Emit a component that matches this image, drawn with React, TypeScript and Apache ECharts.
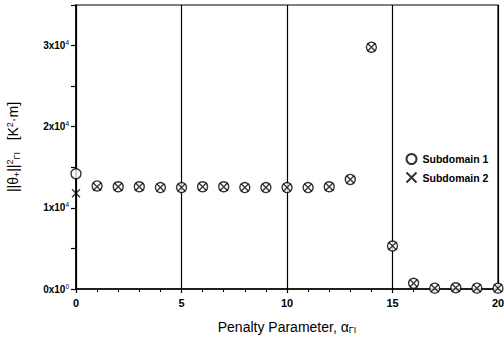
import React, { useEffect, useRef } from "react";
import * as echarts from "echarts";

const alphaValues = [0, 1, 2, 3, 4, 5, 6, 7, 8, 9, 10, 11, 12, 13, 14, 15, 16, 17, 18, 19, 20];
const subdomain1 = [14200, 12700, 12600, 12600, 12500, 12500, 12600, 12600, 12500, 12500, 12500, 12500, 12600, 13500, 29800, 5300, 700, 100, 150, 100, 100];
const subdomain2 = [11800, 12600, 12600, 12600, 12500, 12500, 12600, 12600, 12500, 12500, 12500, 12500, 12600, 13500, 29800, 5300, 700, 100, 150, 100, 100];
const yTickLabels: Record<number, [string, string]> = {
  0: ["0x10", "0"],
  10000: ["1x10", "4"],
  20000: ["2x10", "4"],
  30000: ["3x10", "4"],
};

const X_PATH = "path://M0,0L10,10M10,0L0,10";
const FONT = "Liberation Sans, Arial, sans-serif";

export default function App() {
  const ref = useRef<HTMLDivElement>(null);
  useEffect(() => {
    if (!ref.current) return;
    const chart = echarts.init(ref.current, undefined, { renderer: "svg" });
    const d1 = alphaValues.map((x, i) => [x, subdomain1[i]]);
    const d2 = alphaValues.map((x, i) => [x, subdomain2[i]]);
    chart.setOption({
      animation: false,
      backgroundColor: "#fff",
      textStyle: { fontFamily: FONT, color: "#000" },
      grid: {
        left: 76,
        right: 6,
        top: 5,
        bottom: 54,
        containLabel: false,
        outerBoundsMode: "none",
        show: true,
        borderColor: "#000",
        borderWidth: 1.2,
      },
      legend: {
        orient: "vertical",
        left: 399,
        top: 148,
        itemWidth: 12,
        itemHeight: 10,
        itemGap: 5,
        textStyle: { fontFamily: FONT, fontSize: 10.5, fontWeight: "bold", color: "#000" },
        data: ["Subdomain 1", "Subdomain 2"],
      },
      xAxis: {
        type: "value",
        min: 0,
        max: 20,
        interval: 5,
        name: "Penalty Parameter, {a|α}{s|ΓI}",
        nameLocation: "middle",
        nameGap: 30,
        nameTextStyle: {
          fontFamily: FONT,
          fontSize: 14,
          color: "#000",
          rich: {
            a: { fontFamily: FONT, fontSize: 14, color: "#000" },
            s: { fontFamily: FONT, fontSize: 9, color: "#000", verticalAlign: "bottom", padding: [6, 0, 0, 0] },
          },
        },
        axisLine: { onZero: false, lineStyle: { color: "#000", width: 1.5 } },
        axisTick: { show: true, inside: false, length: 4, lineStyle: { color: "#000", width: 1.2 } },
        minorTick: { show: true, splitNumber: 5, length: 3, lineStyle: { color: "#000", width: 1 } },
        axisLabel: { fontFamily: FONT, fontSize: 11, fontWeight: "bold", color: "#000", margin: 8 },
        splitLine: { show: true, lineStyle: { color: "#000", width: 1.2 } },
      },
      yAxis: {
        type: "value",
        min: 0,
        max: 35000,
        interval: 5000,
        name: "||θ{sb|+}||{sp|2}{sb|ΓI}   [K{sp|2}·m]",
        nameLocation: "middle",
        nameRotate: 90,
        nameGap: 55,
        nameTextStyle: {
          fontFamily: FONT,
          fontSize: 14,
          color: "#000",
          rich: {
            sb: { fontFamily: FONT, fontSize: 9, color: "#000", padding: [7, 0, 0, 0] },
            sp: { fontFamily: FONT, fontSize: 9, color: "#000", padding: [0, 0, 7, 0] },
          },
        },
        axisLine: { onZero: false, lineStyle: { color: "#000", width: 1.5 } },
        axisTick: { show: true, inside: false, length: 5, lineStyle: { color: "#000", width: 1.2 } },
        axisLabel: {
          margin: 7,
          formatter: (v: number) => {
            const t = yTickLabels[v];
            return t ? `{b|${t[0]}}{s|${t[1]}}` : "";
          },
          rich: {
            b: { fontFamily: FONT, fontSize: 10, fontWeight: "bold", color: "#000" },
            s: { fontFamily: FONT, fontSize: 6.5, color: "#000", padding: [0, 0, 6, 0] },
          },
        },
        splitLine: { show: false },
      },
      series: [
        {
          name: "Subdomain 1",
          type: "scatter",
          data: d1,
          symbol: "circle",
          symbolSize: 10,
          clip: false,
          itemStyle: { color: "#fff", borderColor: "#000", borderWidth: 1.4 },
          z: 3,
        },
        {
          name: "Subdomain 2",
          type: "scatter",
          data: d2,
          symbol: X_PATH,
          symbolSize: 8,
          clip: false,
          itemStyle: { color: "none", borderColor: "#000", borderWidth: 1.3 },
          z: 4,
        },
      ],
    });
    return () => chart.dispose();
  }, []);
  return <div ref={ref} style={{ width: 504, height: 343, position: "absolute", left: 0, top: 0 }} />;
}
